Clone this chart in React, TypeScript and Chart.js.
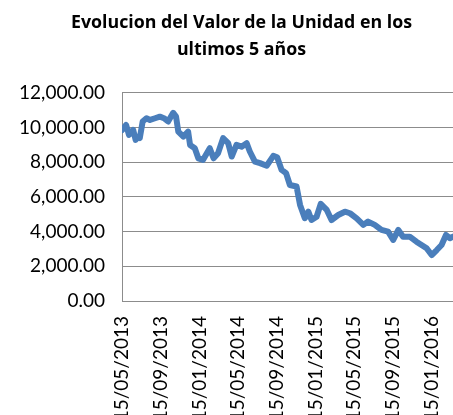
import { useEffect, useRef } from 'react';
import { Chart, registerables } from 'chart.js';

Chart.register(...registerables);

const TITLE_LINES = ['Evolucion del Valor de la Unidad en los', 'ultimos 5 años'];

const TICK_LABELS = [
  '15/05/2013', '15/09/2013', '15/01/2014', '15/05/2014', '15/09/2014',
  '15/01/2015', '15/05/2015', '15/09/2015', '15/01/2016',
];

const DATES = [
  '15/05/2013', '28/05/2013', '06/06/2013', '19/06/2013', '27/06/2013', '04/07/2013', '10/07/2013',
  '19/07/2013', '31/07/2013', '11/08/2013', '27/08/2013', '11/09/2013', '24/09/2013', '07/10/2013',
  '23/10/2013', '01/11/2013', '08/11/2013', '24/11/2013', '09/12/2013', '15/12/2013', '30/12/2013',
  '10/01/2014', '25/01/2014', '15/02/2014', '27/02/2014', '13/03/2014', '29/03/2014', '14/04/2014',
  '25/04/2014', '10/05/2014', '26/05/2014', '11/06/2014', '21/06/2014', '07/07/2014', '23/07/2014',
  '13/08/2014', '03/09/2014', '15/09/2014', '29/09/2014', '13/10/2014', '25/10/2014', '15/11/2014',
  '26/11/2014', '11/12/2014', '22/12/2014', '01/01/2015', '17/01/2015', '30/01/2015', '18/02/2015',
  '05/03/2015', '26/03/2015', '16/04/2015', '02/05/2015', '23/05/2015', '13/06/2015', '28/06/2015',
  '19/07/2015', '09/08/2015', '30/08/2015', '15/09/2015', '01/10/2015', '16/10/2015', '06/11/2015',
  '27/11/2015', '13/12/2015', '29/12/2015', '14/01/2016', '30/01/2016', '14/02/2016', '28/02/2016',
  '11/03/2016', '21/03/2016',
];

const VALUES = [
  9850, 10150, 9580, 9870, 9290, 9480, 9400,
  10350, 10540, 10440, 10540, 10630, 10540, 10350,
  10850, 10630, 9770, 9480, 9770, 9000, 8810,
  8230, 8140, 8810, 8230, 8520, 9390, 9100,
  8330, 9000, 8900, 9100, 8620, 8040, 7950,
  7800, 8370, 8290, 7560, 7370, 6690, 6600,
  5540, 4770, 5150, 4670, 4860, 5600, 5250,
  4670, 4960, 5150, 5060, 4770, 4390, 4580,
  4390, 4100, 4000, 3520, 4100, 3710, 3710,
  3420, 3230, 3040, 2650, 2940, 3230, 3810,
  3620, 3710,
];

const Y_MIN = 0;
const Y_MAX = 12000;
const Y_STEP = 2000;

function dayOffset(dmy: string): number {
  const [d, m, y] = dmy.split('/').map(Number);
  const [d0, m0, y0] = DATES[0].split('/').map(Number);
  return Math.round((Date.UTC(y, m - 1, d) - Date.UTC(y0, m0 - 1, d0)) / 86400000);
}

const titleShift = {
  id: 'titleShift',
  afterLayout(chart: any) {
    const t = chart.titleBlock;
    if (t) {
      t.left = 30;
      t.right = chart.width;
    }
  },
};

export default function App() {
  const ref = useRef<HTMLCanvasElement | null>(null);

  useEffect(() => {
    document.body.style.margin = '0';
    const canvas = ref.current;
    if (!canvas) return;
    const points = DATES.map((d, i) => ({ x: dayOffset(d), y: VALUES[i] }));
    const tickDays = TICK_LABELS.map(dayOffset);
    const grey = '#8c8c8c';

    const chart = new Chart(canvas, {
      type: 'line',
      data: {
        datasets: [
          {
            data: points,
            borderColor: '#4A7EBB',
            backgroundColor: '#4A7EBB',
            borderWidth: 6,
            pointRadius: 0,
            tension: 0,
            borderJoinStyle: 'round',
            borderCapStyle: 'round',
          },
        ],
      },
      plugins: [titleShift],
      options: {
        animation: false,
        responsive: false,
        devicePixelRatio: 1,
        layout: { padding: 0 },
        plugins: {
          legend: { display: false },
          tooltip: { enabled: false },
          title: {
            display: true,
            text: TITLE_LINES,
            color: '#000',
            font: { family: 'Open Sans', size: 17.8, weight: 'bold', lineHeight: 1.5 },
            padding: { top: 10, bottom: 29.5 },
          },
        },
        scales: {
          x: {
            type: 'linear',
            min: 0,
            max: dayOffset(DATES[DATES.length - 1]),
            grid: { display: false, drawTicks: false },
            border: { display: true, color: grey, width: 1 },
            afterBuildTicks: (s: any) => {
              s.ticks = tickDays.map((v) => ({ value: v }));
            },
            afterFit: (s: any) => {
              s.height = 114;
              s.paddingLeft = 0;
              s.paddingRight = 0;
            },
            ticks: {
              autoSkip: false,
              minRotation: 90,
              maxRotation: 90,
              padding: 15,
              color: '#000',
              font: { family: 'Lato', size: 19 },
              callback: (v: any) => {
                const i = tickDays.indexOf(Number(v));
                return i >= 0 ? TICK_LABELS[i] : '';
              },
            },
          },
          y: {
            min: Y_MIN,
            max: Y_MAX,
            grid: { color: grey, lineWidth: 1, drawTicks: false },
            border: { display: true, color: grey, width: 1 },
            afterFit: (s: any) => {
              s.width = 122;
            },
            ticks: {
              stepSize: Y_STEP,
              padding: 17,
              color: '#000',
              font: { family: 'Lato', size: 19 },
              callback: (v: any) =>
                Number(v).toLocaleString('en-US', { minimumFractionDigits: 2, maximumFractionDigits: 2 }),
            },
          },
        },
      },
    });
    return () => chart.destroy();
  }, []);

  return (
    <div style={{ width: 453, height: 415, overflow: 'hidden' }}>
      <canvas ref={ref} width={453} height={415} />
    </div>
  );
}
